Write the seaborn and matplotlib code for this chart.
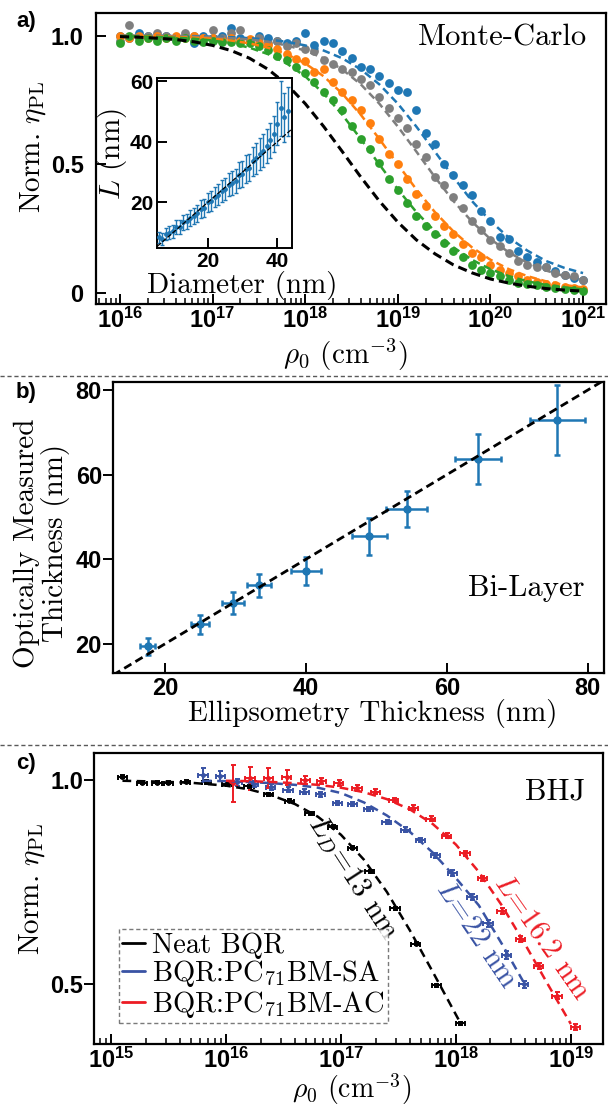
"""
Three stacked panels: Monte-Carlo PL quenching, bi-layer thickness check, BHJ quenching
"""
import matplotlib
matplotlib.use('Agg')
import matplotlib.pyplot as plt
import seaborn as sns
import numpy as np
from matplotlib.lines import Line2D
from matplotlib.ticker import LogLocator, FuncFormatter, NullFormatter

# ---------------- panel a: Monte-Carlo ----------------
mc_exp = [16.0, 16.1, 16.2, 16.3, 16.4, 16.5, 16.6, 16.7, 16.8, 16.9,
          17.0, 17.1, 17.2, 17.3, 17.4, 17.5, 17.6, 17.7, 17.8, 17.9,
          18.0, 18.1, 18.2, 18.3, 18.4, 18.5, 18.6, 18.7, 18.8, 18.9,
          19.0, 19.1, 19.2, 19.3, 19.4, 19.5, 19.6, 19.7, 19.8, 19.9,
          20.0, 20.1, 20.2, 20.3, 20.4, 20.5, 20.6, 20.7, 20.8, 20.9, 21.0]
mc_blue = [1.00, 0.99, 1.01, 1.00, 0.99, 1.00, 0.99, 1.00, 0.97, 1.00,
           0.99, 1.00, 1.03, 0.99, 0.98, 1.00, 0.99, 0.98, 0.97, 0.98,
           1.01, 0.965, 0.98, 0.97, 0.94, 0.915, 0.88, 0.87, 0.845, 0.815,
           0.79, 0.78, 0.71, 0.62, 0.58, 0.50, 0.46, 0.42, 0.38, 0.32,
           0.28, 0.22, 0.21, 0.165, 0.14, 0.12, 0.10, 0.085, 0.07, 0.06, 0.05]
mc_gray = [0.98, 1.04, 0.99, 1.00, 1.01, 1.00, 0.99, 1.01, 1.00, 0.99,
           1.02, 0.99, 1.01, 1.02, 0.98, 0.99, 0.97, 0.98, 0.96, 0.97,
           0.95, 0.94, 0.905, 0.89, 0.87, 0.86, 0.83, 0.81, 0.76, 0.72,
           0.68, 0.64, 0.58, 0.53, 0.45, 0.42, 0.375, 0.33, 0.28, 0.245,
           0.205, 0.185, 0.157, 0.126, 0.11, 0.10, 0.10, 0.08, 0.07, 0.065, 0.05]
mc_orange = [1.00, 0.99, 1.00, 0.99, 1.00, 0.99, 1.00, 0.99, 1.00, 0.99,
             0.99, 0.98, 0.99, 0.98, 0.985, 0.97, 0.965, 0.95, 0.93, 0.91,
             0.90, 0.86, 0.87, 0.82, 0.78, 0.75, 0.71, 0.66, 0.60, 0.54,
             0.50, 0.445, 0.385, 0.34, 0.30, 0.26, 0.23, 0.19, 0.157, 0.14,
             0.11, 0.09, 0.08, 0.065, 0.05, 0.045, 0.035, 0.03, 0.025, 0.02, 0.015]
mc_green = [0.97, 1.00, 0.98, 0.99, 0.98, 0.99, 0.98, 0.99, 0.98, 0.975,
            0.98, 0.975, 0.975, 0.97, 0.97, 0.96, 0.945, 0.92, 0.905, 0.88,
            0.855, 0.82, 0.78, 0.75, 0.71, 0.65, 0.60, 0.56, 0.505, 0.445,
            0.40, 0.35, 0.30, 0.26, 0.23, 0.195, 0.165, 0.14, 0.11, 0.09,
            0.08, 0.065, 0.05, 0.04, 0.035, 0.03, 0.025, 0.02, 0.015, 0.012, 0.01]

fit_exp = [16.0, 16.2, 16.4, 16.6, 16.8, 17.0, 17.2, 17.4, 17.6, 17.8,
           18.0, 18.2, 18.4, 18.6, 18.8, 19.0, 19.2, 19.4, 19.6, 19.8,
           20.0, 20.2, 20.4, 20.6, 20.8, 21.0]
fit_black = [0.996, 0.994, 0.990, 0.985, 0.976, 0.962, 0.942, 0.912, 0.869, 0.811,
             0.736, 0.647, 0.550, 0.451, 0.358, 0.276, 0.207, 0.153, 0.110, 0.079,
             0.055, 0.039, 0.027, 0.018, 0.012, 0.008]
fit_green = [0.998, 0.997, 0.995, 0.992, 0.988, 0.981, 0.970, 0.953, 0.928, 0.892,
             0.842, 0.775, 0.693, 0.599, 0.500, 0.403, 0.315, 0.240, 0.178, 0.130,
             0.093, 0.066, 0.046, 0.032, 0.022, 0.015]
fit_orange = [0.999, 0.998, 0.997, 0.995, 0.992, 0.988, 0.981, 0.970, 0.953, 0.928,
              0.892, 0.842, 0.775, 0.693, 0.599, 0.500, 0.403, 0.315, 0.240, 0.178,
              0.130, 0.093, 0.066, 0.046, 0.032, 0.022]
fit_gray = [0.999, 0.999, 0.998, 0.998, 0.996, 0.994, 0.990, 0.985, 0.976, 0.962,
            0.942, 0.912, 0.869, 0.811, 0.736, 0.647, 0.550, 0.451, 0.358, 0.278,
            0.210, 0.158, 0.118, 0.088, 0.066, 0.050]
fit_blue = [1.000, 0.999, 0.999, 0.998, 0.998, 0.996, 0.994, 0.990, 0.985, 0.976,
            0.962, 0.942, 0.912, 0.869, 0.811, 0.736, 0.647, 0.550, 0.451, 0.358,
            0.280, 0.215, 0.165, 0.125, 0.098, 0.078]

# inset: diffusion length vs diameter
inset_d = [6, 7, 8, 9, 10, 11, 12, 13, 14, 15, 16, 17, 18, 19, 20, 21, 22, 23, 24,
           25, 26, 27, 28, 29, 30, 31, 32, 33, 34, 35, 36, 37, 38, 39, 40, 41, 42, 43]
inset_l = [8.5, 8.0, 9.5, 10.0, 10.5, 12.0, 12.0, 13.5, 13.8, 15.0, 15.5, 16.5, 17.8,
           18.2, 20.0, 20.5, 21.8, 22.5, 23.8, 24.5, 25.8, 26.5, 27.0, 29.0, 29.5, 31.0,
           31.5, 33.5, 34.5, 36.0, 37.0, 38.5, 40.5, 42.5, 46.0, 51.0, 48.0, 50.0]
inset_err = [1.8, 2.0, 2.0, 2.2, 2.2, 2.3, 2.3, 2.5, 2.5, 2.6, 2.7, 2.8, 3.0, 3.0,
             3.2, 3.3, 3.4, 3.5, 3.6, 3.7, 3.8, 4.0, 4.0, 4.2, 4.3, 4.5, 4.6, 4.8,
             5.0, 5.2, 5.4, 5.6, 5.8, 6.0, 7.0, 9.0, 8.0, 8.0]

# ---------------- panel b: bi-layer ----------------
ell_thick = [17.5, 24.9, 29.6, 33.3, 40.0, 49.0, 54.3, 64.4, 75.7]
ell_err = [1.0, 1.3, 1.6, 1.75, 2.1, 2.5, 2.9, 3.3, 3.85]
opt_thick = [19.4, 24.6, 29.6, 33.8, 37.2, 45.4, 51.8, 63.7, 73.0]
opt_err = [2.0, 2.2, 2.6, 2.8, 3.2, 4.3, 4.3, 6.0, 8.3]

# ---------------- panel c: BHJ ----------------
c_black_exp = [15.10, 15.27, 15.40, 15.50, 15.65, 15.83, 16.01, 16.20, 16.37,
               16.55, 16.73, 16.93, 17.10, 17.25, 17.47, 17.65, 17.83, 18.04]
c_black_val = [1.008, 0.993, 0.993, 0.993, 0.996, 0.995, 0.989, 0.984, 0.965,
               0.949, 0.918, 0.886, 0.834, 0.776, 0.686, 0.599, 0.498, 0.405]
c_black_err = [0.004, 0.004, 0.004, 0.004, 0.004, 0.004, 0.004, 0.004, 0.004,
               0.004, 0.004, 0.004, 0.004, 0.004, 0.004, 0.004, 0.004, 0.004]
c_blue_exp = [15.80, 15.95, 16.10, 16.24, 16.39, 16.54, 16.68, 16.82, 16.97, 17.10,
              17.24, 17.40, 17.56, 17.69, 17.82, 17.97, 18.14, 18.28, 18.44, 18.59]
c_blue_val = [1.012, 1.010, 0.994, 0.990, 0.982, 0.976, 0.971, 0.965, 0.943, 0.940,
              0.929, 0.898, 0.878, 0.853, 0.816, 0.772, 0.714, 0.649, 0.572, 0.500]
c_blue_err = [0.016, 0.012, 0.008, 0.008, 0.007, 0.006, 0.006, 0.006, 0.005, 0.005,
              0.005, 0.005, 0.006, 0.006, 0.006, 0.007, 0.008, 0.008, 0.009, 0.009]
c_red_exp = [16.06, 16.21, 16.37, 16.53, 16.69, 16.83, 16.98, 17.14, 17.30, 17.46,
             17.63, 17.78, 17.92, 18.08, 18.23, 18.40, 18.56, 18.72, 18.88, 19.04]
c_red_val = [0.992, 1.004, 1.004, 1.006, 1.000, 0.997, 0.992, 0.981, 0.971, 0.951,
             0.932, 0.905, 0.864, 0.821, 0.759, 0.679, 0.611, 0.545, 0.472, 0.396]
c_red_err = [0.045, 0.028, 0.024, 0.018, 0.010, 0.008, 0.007, 0.007, 0.006, 0.006,
             0.006, 0.006, 0.006, 0.006, 0.007, 0.007, 0.007, 0.008, 0.008, 0.008]
c_xerr_dec = 0.04  # horizontal error half-width, decades

c_black_fit_exp = [15.1, 15.4, 15.7, 16.0, 16.2, 16.4, 16.6, 16.8, 17.0, 17.2,
                   17.4, 17.6, 17.8, 18.05]
c_black_fit = [0.998, 0.996, 0.993, 0.986, 0.977, 0.962, 0.941, 0.910, 0.866, 0.805,
               0.726, 0.632, 0.530, 0.400]
c_blue_fit_exp = [15.8, 16.0, 16.2, 16.4, 16.6, 16.8, 17.0, 17.2, 17.4, 17.6,
                  17.8, 18.0, 18.2, 18.4, 18.6]
c_blue_fit = [0.998, 0.997, 0.995, 0.992, 0.988, 0.981, 0.968, 0.945, 0.913, 0.873,
              0.822, 0.760, 0.693, 0.599, 0.500]
c_red_fit_exp = [16.0, 16.2, 16.4, 16.6, 16.8, 17.0, 17.2, 17.4, 17.6, 17.8,
                 18.0, 18.2, 18.4, 18.6, 18.8, 19.0]
c_red_fit = [0.998, 0.997, 0.995, 0.992, 0.988, 0.981, 0.970, 0.953, 0.928, 0.892,
             0.842, 0.775, 0.693, 0.599, 0.500, 0.403]

legend_labels = ['Neat BQR', 'BQR:PC$_{71}$BM-SA', 'BQR:PC$_{71}$BM-AC']

# ---------------- style ----------------
sns.set_theme(style='ticks')
plt.rcParams['font.family'] = ['Liberation Sans', 'DejaVu Sans']
plt.rcParams['font.weight'] = 'bold'
plt.rcParams['mathtext.fontset'] = 'custom'
plt.rcParams['mathtext.rm'] = 'Liberation Sans:bold'
plt.rcParams['mathtext.bf'] = 'Liberation Sans:bold'
plt.rcParams['mathtext.it'] = 'Liberation Sans:italic:bold'
for k in ['axes.edgecolor', 'text.color', 'xtick.color', 'ytick.color', 'axes.labelcolor']:
    plt.rcParams[k] = 'black'
plt.rcParams['axes.linewidth'] = 1.6

LABEL = dict(fontfamily='cmr10', fontweight='normal', fontsize=21, math_fontfamily='cm')
C_BLUE, C_ORANGE, C_GREEN, C_GRAY = '#1f77b4', '#ff7f0e', '#2ca02c', '#7f7f7f'
C_DBLUE, C_RED = '#3953a4', '#ec1c24'


def log_label(v, pos):
    return r'$\mathbf{10^{%d}}$' % int(round(np.log10(v)))


def style_log_x(ax):
    ax.set_xscale('log')
    ax.xaxis.set_major_locator(LogLocator(base=10))
    ax.xaxis.set_minor_locator(LogLocator(base=10, subs=(2, 3, 4, 5, 6, 7, 8, 9)))
    ax.xaxis.set_major_formatter(FuncFormatter(log_label))
    ax.xaxis.set_minor_formatter(NullFormatter())


def style_ticks(ax, ydir, size=16, ypad=3):
    ax.tick_params(axis='x', which='major', direction='in', length=7, width=1.4,
                   labelsize=size, pad=3, top=False)
    ax.tick_params(axis='x', which='minor', direction='in', length=4, width=1.1, top=False)
    ax.tick_params(axis='y', which='major', direction=ydir, length=7, width=1.4,
                   labelsize=size, pad=ypad, right=False)
    ax.tick_params(axis='y', which='minor', left=False, right=False)
    for s in ax.spines.values():
        s.set_visible(True)
        s.set_color('black')


fig = plt.figure(figsize=(6.08, 11.05), dpi=100)

# ---------------- panel a ----------------
ax_a = fig.add_axes([0.1579, 0.7249, 0.8388, 0.2636])
mc_rho = 10.0 ** np.array(mc_exp)
fit_rho = 10.0 ** np.array(fit_exp)
for vals, fit, col in [(mc_blue, fit_blue, C_BLUE), (mc_gray, fit_gray, C_GRAY),
                       (mc_orange, fit_orange, C_ORANGE), (mc_green, fit_green, C_GREEN)]:
    sns.scatterplot(x=mc_rho, y=vals, color=col, s=40, linewidth=0, ax=ax_a, zorder=3)
    sns.lineplot(x=fit_rho, y=fit, color=col, lw=1.8, ls=(0, (3, 1.8)),
                 estimator=None, sort=False, ax=ax_a, zorder=4)
sns.lineplot(x=fit_rho, y=fit_black, color='black', lw=2.2, ls=(0, (3, 1.7)),
             estimator=None, sort=False, ax=ax_a, zorder=5)
style_log_x(ax_a)
ax_a.set_xlim(10 ** 15.741, 10 ** 21.248)
ax_a.set_ylim(-0.042, 1.089)
ax_a.set_yticks([0, 0.5, 1.0])
ax_a.set_yticklabels(['0', '0.5', '1.0'])
style_ticks(ax_a, 'in', size=17, ypad=9)
ax_a.set_xlabel(r'$\rho_0$ (cm$^{-3}$)', **LABEL)
ax_a.set_ylabel(r'Norm. $\eta_{\mathrm{PL}}$', **LABEL)
ax_a.xaxis.set_label_coords(0.49, -0.113)
ax_a.yaxis.set_label_coords(-0.094, 0.54)
ax_a.text(0.963, 0.913, 'Monte-Carlo', transform=ax_a.transAxes, ha='right', va='center',
          fontfamily='cmr10', fontweight='normal', fontsize=22)

# inset
ax_in = fig.add_axes([0.2590, 0.7756, 0.2212, 0.1538])
ax_in.set_facecolor('white')
ax_in.errorbar(inset_d, inset_l, yerr=inset_err, fmt='o', color=C_BLUE, ms=2.5,
               elinewidth=1.0, capsize=1.6, capthick=1.0, zorder=3)
ax_in.set_xlim(5.6, 44.2)
ax_in.set_ylim(5, 61)
diag_in = np.array(ax_in.get_xlim())
ax_in.plot(diag_in, diag_in, color='black', ls='--', lw=0.9, zorder=4)
ax_in.set_xticks([20, 40])
ax_in.set_yticks([20, 40, 60])
style_ticks(ax_in, 'in', size=15, ypad=3)
for s in ax_in.spines.values():
    s.set_linewidth(1.4)
ax_in.set_xlabel('Diameter (nm)', **LABEL)
ax_in.set_ylabel(r'$L$ (nm)', **LABEL)
ax_in.xaxis.set_label_coords(0.63, -0.135)
ax_in.yaxis.set_label_coords(-0.215, 0.55)

# ---------------- panel b ----------------
ax_b = fig.add_axes([0.1859, 0.3910, 0.8075, 0.2633])
ax_b.errorbar(ell_thick, opt_thick, xerr=ell_err, yerr=opt_err, fmt='o', color=C_BLUE,
              ms=5, elinewidth=1.8, capsize=2.5, capthick=1.8, zorder=3)
ax_b.set_xlim(12.6, 82.3)
ax_b.set_ylim(13.1, 81.9)
diag_b = np.array(ax_b.get_xlim())
ax_b.plot(diag_b, diag_b, color='black', ls=(0, (3, 1.7)), lw=2.0, zorder=4)
ax_b.set_xticks([20, 40, 60, 80])
ax_b.set_yticks([20, 40, 60, 80])
style_ticks(ax_b, 'out', size=17, ypad=1)
ax_b.set_xlabel('Ellipsometry Thickness (nm)', **LABEL)
ax_b.set_ylabel('Optically Measured\nThickness (nm)', linespacing=1.05, **LABEL)
ax_b.xaxis.set_label_coords(0.53, -0.09)
ax_b.yaxis.set_label_coords(-0.088, 0.447)
ax_b.text(0.961, 0.292, 'Bi-Layer', transform=ax_b.transAxes, ha='right', va='center',
          fontfamily='cmr10', fontweight='normal', fontsize=22)

# ---------------- panel c ----------------
ax_c = fig.add_axes([0.1551, 0.0552, 0.8367, 0.2634])
fac = 10.0 ** c_xerr_dec
series_c = [(c_black_exp, c_black_val, c_black_err, c_black_fit_exp, c_black_fit, 'black'),
            (c_blue_exp, c_blue_val, c_blue_err, c_blue_fit_exp, c_blue_fit, C_DBLUE),
            (c_red_exp, c_red_val, c_red_err, c_red_fit_exp, c_red_fit, C_RED)]
for exps, vals, errs, fexp, fval, col in series_c:
    rho = 10.0 ** np.array(exps)
    ax_c.errorbar(rho, vals, yerr=errs, xerr=[rho - rho / fac, rho * fac - rho], fmt='o',
                  color=col, ms=2.5, elinewidth=1.4, capsize=1.8, capthick=1.4, zorder=3)
    sns.lineplot(x=10.0 ** np.array(fexp), y=fval, color=col, lw=1.8, ls=(0, (3.5, 2.2)),
                 estimator=None, sort=False, ax=ax_c, zorder=4)
style_log_x(ax_c)
ax_c.set_xlim(10 ** 14.855, 10 ** 19.28)
ax_c.set_ylim(0.354, 1.066)
ax_c.set_yticks([0.5, 1.0])
ax_c.set_yticklabels(['0.5', '1.0'])
style_ticks(ax_c, 'out', size=17, ypad=1)
ax_c.set_xlabel(r'$\rho_0$ (cm$^{-3}$)', **dict(LABEL, fontsize=20))
ax_c.set_ylabel(r'Norm. $\eta_{\mathrm{PL}}$', **LABEL)
ax_c.xaxis.set_label_coords(0.506, -0.093)
ax_c.yaxis.set_label_coords(-0.093, 0.533)
ax_c.text(0.965, 0.866, 'BHJ', transform=ax_c.transAxes, ha='right', va='center',
          fontfamily='cmr10', fontweight='normal', fontsize=22)

ann_kw = dict(ha='center', va='center', rotation_mode='anchor', fontfamily='cmr10',
              fontweight='normal', fontsize=21, math_fontfamily='cm')
ax_c.text(10 ** 17.1, 0.76, r'$L_D$=13 nm', rotation=-57, color='black', **ann_kw)
ax_c.text(10 ** 18.18, 0.621, r'$L$=22 nm', rotation=-56, color=C_DBLUE, **ann_kw)
ax_c.text(10 ** 18.75, 0.616, r'$L$=16.2 nm', rotation=-55, color=C_RED, **ann_kw)

handles = [Line2D([], [], color=c, lw=2.0) for c in ['black', C_DBLUE, C_RED]]
leg = ax_c.legend(handles, legend_labels, loc='lower left', bbox_to_anchor=(0.0486, 0.072),
                  borderaxespad=0, fancybox=False, handlelength=0.8, handletextpad=0.25,
                  labelspacing=-0.02, borderpad=0.12,
                  prop=dict(family='cmr10', weight='normal', size=20.5))
leg.get_frame().set_linestyle((0, (3, 2)))
leg.get_frame().set_edgecolor('0.35')
leg.get_frame().set_linewidth(1.0)
for t in leg.get_texts():
    t.set_math_fontfamily('cm')

# ---------------- panel tags and separators ----------------
for tag, yy in [('a)', 22), ('b)', 392), ('c)', 764)]:
    fig.text(26 / 608, 1 - yy / 1105, tag, ha='center', va='center', fontsize=16,
             fontweight='bold')
for yy in [376, 745]:
    fig.add_artist(Line2D([0, 1], [1 - yy / 1105, 1 - yy / 1105], transform=fig.transFigure,
                          color='0.35', lw=1.0, ls=(0, (3, 2))))

fig.savefig('out.png', dpi=100)
plt.close(fig)
